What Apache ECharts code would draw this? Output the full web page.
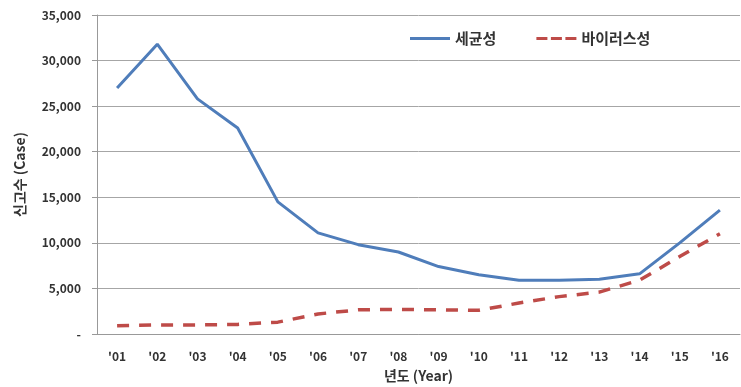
<!DOCTYPE html>
<html><head><meta charset="utf-8">
<script src="https://cdn.jsdelivr.net/npm/echarts@6/dist/echarts.min.js"></script>
<style>html,body{margin:0;padding:0;background:#fff}#c{width:741px;height:387px}</style>
</head><body><div id="c"></div>
<script>
const categories = ["'01","'02","'03","'04","'05","'06","'07","'08","'09","'10","'11","'12","'13","'14","'15","'16"];
const bacterial = [27000,31800,25800,22600,14500,11100,9800,9000,7400,6500,5900,5900,6000,6600,10000,13600];
const viral = [900,1000,1000,1050,1300,2200,2650,2700,2650,2600,3400,4100,4600,5900,8500,11000];
const yTicks = [0,5000,10000,15000,20000,25000,30000,35000];

const font = '"Noto Sans CJK KR", "Noto Sans", sans-serif';
const chart = echarts.init(document.getElementById('c'));
chart.setOption({
  animation: false,
  textStyle: { fontFamily: font },
  grid: { left: 97, right: 1, top: 15, bottom: 53, containLabel: false, outerBoundsMode: 'none' },
  legend: {
    top: 26, left: 405, itemGap: 40, itemWidth: 40, itemHeight: 3,
    textStyle: { fontFamily: font, fontSize: 15, fontWeight: 'bold', color: '#333' },
    data: [
      { name: '세균성', icon: 'rect' },
      { name: '바이러스성', icon: 'path://M0,0h11v3h-11z M14.5,0h11v3h-11z M29,0h11v3h-11z' }
    ]
  },
  xAxis: {
    type: 'category', data: categories, boundaryGap: true,
    name: '년도 (Year)', nameLocation: 'middle', nameGap: 35,
    nameTextStyle: { fontSize: 14, fontWeight: 'bold', color: '#333', fontFamily: font },
    axisLine: { lineStyle: { color: '#999' } },
    axisTick: { show: false },
    axisLabel: { fontSize: 12, fontWeight: 'bold', color: '#333', margin: 16 }
  },
  yAxis: {
    type: 'value', min: 0, max: 35000, interval: 5000,
    name: '신고수 (Case)', nameLocation: 'middle', nameGap: 70, nameRotate: 90,
    nameTextStyle: { fontSize: 14, fontWeight: 'bold', color: '#333', fontFamily: font },
    axisLine: { show: true, lineStyle: { color: '#999' } },
    axisTick: { show: true, length: 5, lineStyle: { color: '#999' } },
    splitLine: { lineStyle: { color: '#a6a6a6' } },
    axisLabel: {
      fontSize: 12, fontWeight: 'bold', color: '#333', margin: 16,
      formatter: v => yTicks.includes(v) ? (v === 0 ? '-' : v.toLocaleString('en-US')) : ''
    }
  },
  series: [
    { name: '세균성', type: 'line', data: bacterial, symbol: 'none',
      lineStyle: { color: '#4F7DBA', width: 3 }, itemStyle: { color: '#4F7DBA' } },
    { name: '바이러스성', type: 'line', data: viral, symbol: 'none',
      lineStyle: { color: '#BE4B48', width: 3.5, type: [12, 10] }, itemStyle: { color: '#BE4B48' } }
  ]
});
</script></body></html>
